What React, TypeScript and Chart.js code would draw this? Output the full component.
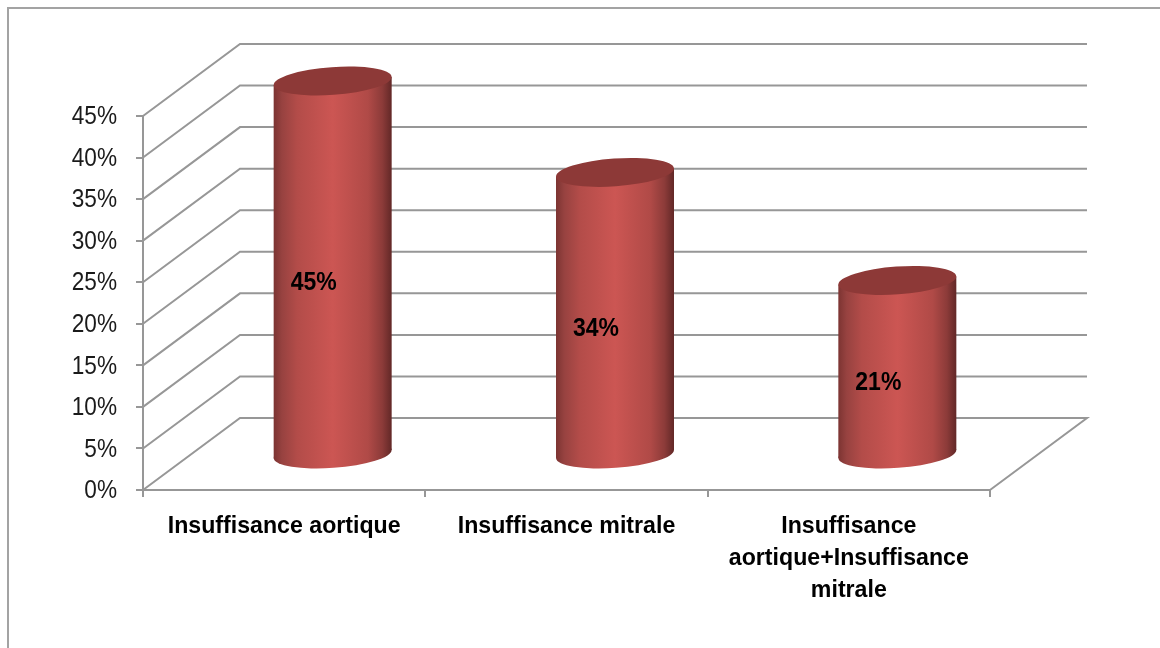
import React, { useEffect, useRef } from "react";
import { Chart, registerables, BarController, BarElement } from "chart.js";

const categories = [
  "Insuffisance aortique",
  "Insuffisance mitrale",
  ["Insuffisance", "aortique+Insuffisance", "mitrale"],
];
const values = [45, 34, 21];
const yMax = 45;
const yStep = 5;

const DEPTH_X = 97;
const DEPTH_Y = 72;
const BAR_SHIFT_X = 48.5;
const BAR_SHIFT_Y = 35;
const TILT = (4.1 * Math.PI) / 180;
const TIP = 4;
const RX = 59.1;
const RY = 13.9;

const GRID = "#979797";
const FONT = '"Liberation Sans", Arial, sans-serif';

function squeezedText(ctx: CanvasRenderingContext2D, text: string, x: number, y: number, sx: number) {
  ctx.save();
  ctx.translate(x, y);
  ctx.scale(sx, 1);
  ctx.fillText(text, 0, 0);
  ctx.restore();
}

class CylinderElement extends BarElement {
  static id = "cylinder";
  draw(ctx: CanvasRenderingContext2D) {
    const self = this as any;
    const cx = self.x + BAR_SHIFT_X;
    const top = self.y - BAR_SHIFT_Y;
    const base = self.base - BAR_SHIFT_Y;
    const half = self.width / 2;
    const g = ctx.createLinearGradient(cx - half, 0, cx + half, 0);
    g.addColorStop(0, "#7c3432");
    g.addColorStop(0.07, "#974240");
    g.addColorStop(0.2, "#b34c49");
    g.addColorStop(0.5, "#cc5653");
    g.addColorStop(0.8, "#b04a47");
    g.addColorStop(0.92, "#8c3b39");
    g.addColorStop(1, "#622827");
    ctx.save();
    ctx.fillStyle = g;
    ctx.beginPath();
    ctx.ellipse(cx, base, RX, RY, -TILT, 0, Math.PI * 2);
    ctx.fill();
    ctx.beginPath();
    ctx.moveTo(cx - half, top + TIP);
    ctx.lineTo(cx - half, base + TIP);
    ctx.lineTo(cx + half, base - TIP);
    ctx.lineTo(cx + half, top - TIP);
    ctx.closePath();
    ctx.fill();
    ctx.fillStyle = "#8d3937";
    ctx.beginPath();
    ctx.ellipse(cx, top, RX, RY, -TILT, 0, Math.PI * 2);
    ctx.fill();
    ctx.restore();
  }
}

class CylinderController extends BarController {
  static id = "cylinder";
  static defaults = { dataElementType: "cylinder" };
}

const wallPlugin = {
  id: "walls",
  beforeDraw(chart: any) {
    const { ctx, scales } = chart;
    const y = scales.y;
    const x = scales.x;
    ctx.save();
    ctx.strokeStyle = "#a3a3a3";
    ctx.lineWidth = 2;
    ctx.beginPath();
    ctx.moveTo(8, chart.height);
    ctx.lineTo(8, 8);
    ctx.lineTo(chart.width, 8);
    ctx.stroke();
    ctx.strokeStyle = GRID;
    ctx.lineWidth = 2;
    for (const t of y.ticks) {
      const py = y.getPixelForValue(t.value);
      ctx.beginPath();
      ctx.moveTo(x.left, py);
      ctx.lineTo(x.left + DEPTH_X, py - DEPTH_Y);
      ctx.lineTo(x.right + DEPTH_X, py - DEPTH_Y);
      if (t.value === 0) ctx.lineTo(x.right, py);
      ctx.stroke();
    }
    ctx.restore();
  },
};

const labelPlugin = {
  id: "textLabels",
  afterDatasetsDraw(chart: any) {
    const { ctx, scales } = chart;
    const els = chart.getDatasetMeta(0).data;
    ctx.save();
    ctx.fillStyle = "#000";
    ctx.textAlign = "center";
    ctx.textBaseline = "middle";
    ctx.font = `bold 25px ${FONT}`;
    els.forEach((el: any, i: number) => {
      const cy = (el.y + el.base) / 2 - BAR_SHIFT_Y + 16;
      squeezedText(ctx, `${values[i]}%`, el.x + BAR_SHIFT_X - 19, cy, 0.92);
    });

    ctx.font = `bold 24px ${FONT}`;
    categories.forEach((c, i) => {
      const lines = Array.isArray(c) ? c : [c];
      const px = scales.x.getPixelForValue(i);
      lines.forEach((line, j) => {
        squeezedText(ctx, line, px, 526 + j * 32, 0.965);
      });
    });

    ctx.fillStyle = "#1a1a1a";
    ctx.textAlign = "right";
    ctx.font = `26px ${FONT}`;
    for (const t of scales.y.ticks) {
      squeezedText(ctx, `${t.value}%`, 117, scales.y.getPixelForValue(t.value) + 1, 0.87);
    }
    ctx.restore();
  },
};

Chart.register(...registerables, CylinderElement as any, CylinderController as any);

export default function App() {
  const ref = useRef<HTMLCanvasElement>(null);
  useEffect(() => {
    const chart = new Chart(ref.current!, {
      type: "cylinder" as any,
      data: {
        labels: categories as any,
        datasets: [{ data: values, barThickness: 118, clip: false } as any],
      },
      plugins: [wallPlugin, labelPlugin],
      options: {
        animation: false,
        responsive: false,
        layout: { padding: { left: 0, right: 170, top: 116, bottom: 0 } },
        plugins: { legend: { display: false }, tooltip: { enabled: false }, title: { display: false } },
        scales: {
          x: {
            type: "category",
            offset: true,
            afterFit: (s: any) => { s.height = 158; },
            grid: { offset: true, drawOnChartArea: false, color: GRID, lineWidth: 2, tickLength: 7 },
            border: { color: GRID, width: 2 },
            ticks: { display: false, autoSkip: false },
          },
          y: {
            type: "linear",
            min: 0,
            max: yMax,
            afterFit: (s: any) => { s.width = 143; },
            grid: { drawOnChartArea: false, color: GRID, lineWidth: 2, tickLength: 7 },
            border: { color: GRID, width: 2 },
            ticks: { display: false, stepSize: yStep },
          },
        },
      } as any,
    });
    return () => chart.destroy();
  }, []);
  return (
    <canvas
      ref={ref}
      width={1160}
      height={648}
      style={{ position: "absolute", left: 0, top: 0, display: "block", width: 1160, height: 648 }}
    />
  );
}
